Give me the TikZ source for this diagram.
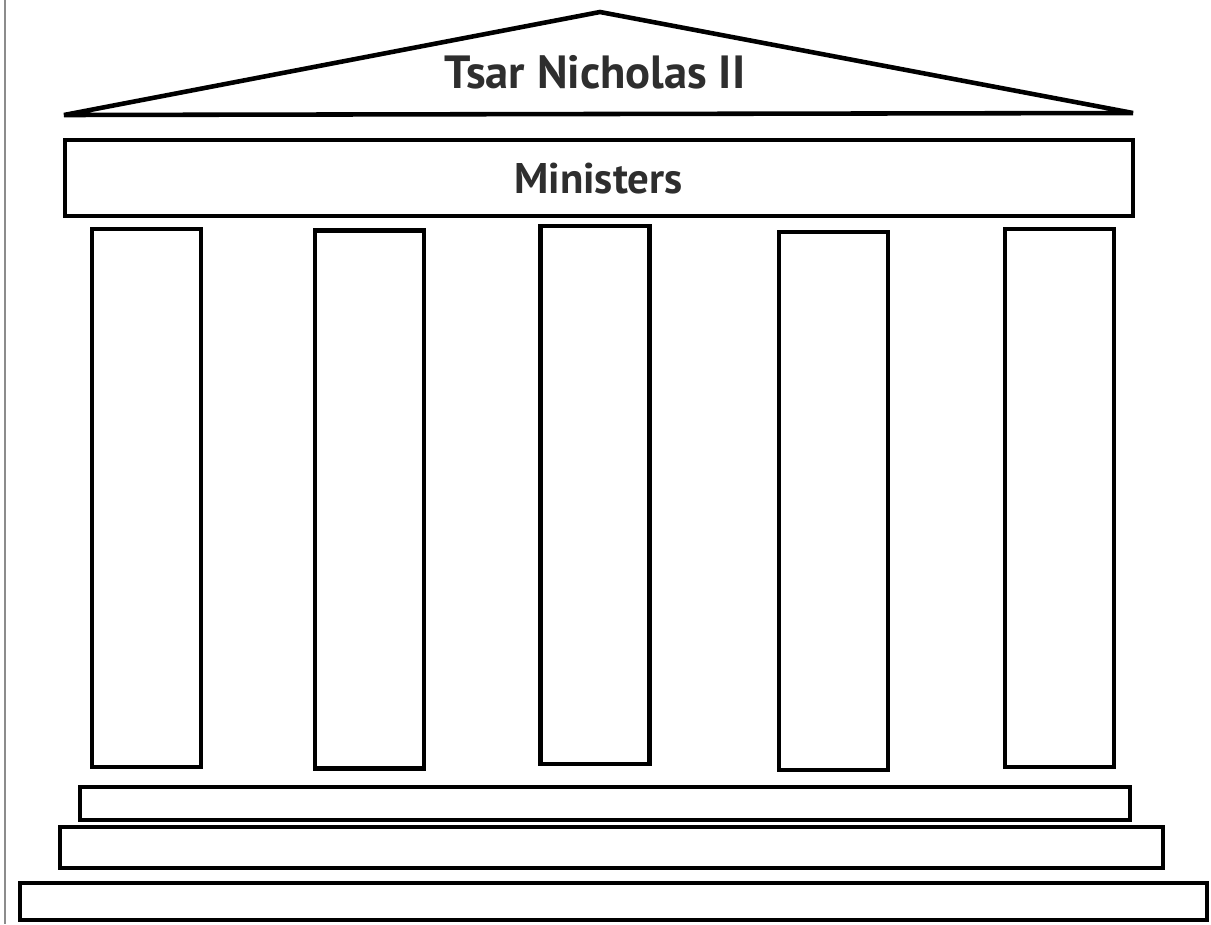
\documentclass[tikz,border=0pt]{standalone}
\usepackage{fontspec}
\setmainfont{PT Sans}
\usepackage{tikz}

\begin{document}
\begin{tikzpicture}[x=0.02cm, y=-0.02cm, line width=2.6pt,
    pillar/.style={draw, rectangle, minimum width=2.18cm, minimum height=10.76cm, inner sep=0pt},
    stepbox/.style={draw, rectangle, inner sep=0pt},
    label/.style={anchor=base, inner sep=0pt, font=\bfseries, text=black!82}]
    \useasboundingbox (0, 0) rectangle (1211, 924);

    % page edge
    \draw[line width=0.7pt, black!45] (5, 0) -- (5, 924);

    % roof
    \coordinate (roofl) at (64, 115);
    \coordinate (apex) at (600, 12);
    \coordinate (roofr) at (1133, 113);
    \draw[line join=miter] (roofl) -- (apex) -- (roofr) -- cycle;
    \node[label, font=\bfseries\fontsize{26.5}{30}\selectfont] at (595, 88) (tsar) {Tsar Nicholas II};

    % ministers
    \node[stepbox, minimum width=21.36cm, minimum height=1.52cm] at (599, 178) (ministers) {};
    \node[label, font=\bfseries\fontsize{24.4}{28}\selectfont] at (598.5, 193) (mintext) {Ministers};

    % pillars
    \node[pillar] at (146.5, 498) (p1) {};
    \node[pillar] at (369.5, 499.5) (p2) {};
    \node[pillar] at (595, 495) (p3) {};
    \node[pillar] at (833.5, 501) (p4) {};
    \node[pillar] at (1059.5, 498) (p5) {};

    % steps
    \node[stepbox, minimum width=21.0cm, minimum height=0.66cm] at (605, 803.5) (s1) {};
    \node[stepbox, minimum width=22.06cm, minimum height=0.82cm] at (611.5, 847.5) (s2) {};
    \node[stepbox, minimum width=23.74cm, minimum height=0.74cm] at (613.5, 901.5) (s3) {};
\end{tikzpicture}
\end{document}
